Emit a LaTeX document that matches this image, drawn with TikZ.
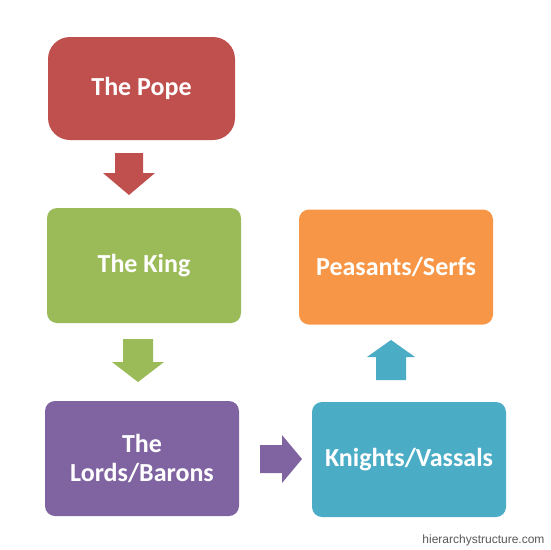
\documentclass[tikz,border=0pt]{standalone}
\usepackage{fontspec}
\setmainfont{Carlito}
\newfontfamily\sitefont{Liberation Sans}
\definecolor{popered}{HTML}{C0504D}
\definecolor{kinggreen}{HTML}{9BBB59}
\definecolor{lordpurple}{HTML}{8064A2}
\definecolor{knightblue}{HTML}{4BACC6}
\definecolor{serforange}{HTML}{F79646}
\begin{document}
\begin{tikzpicture}[x=1pt, y=-1pt,
  level/.style = {shape=rectangle, rounded corners=10pt, align=center,
    minimum width=194pt, minimum height=115pt, inner sep=0pt,
    text=white, font=\fontsize{26}{29}\selectfont\bfseries}]
  \useasboundingbox (0,0) rectangle (550,550);
  \node[level, fill=popered, minimum width=187pt, minimum height=103pt,
    rounded corners=22pt] (pope) at (141.5,88.5) {The Pope};
  \node[level, fill=kinggreen] (king) at (144,265.5) {The King};
  \node[level, fill=lordpurple] (lords) at (142,458.5) {The\\Lords/Barons};
  \node[level, fill=knightblue] (knights) at (409,459.5) {Knights/Vassals};
  \node[level, fill=serforange] (serfs) at (396,267) {Peasants/Serfs};
  % block arrows between the levels
  \fill[popered] (115,153) -- (143,153) -- (143,173) -- (155,173) -- (129,195)
    -- (103,173) -- (115,173) -- cycle;
  \fill[kinggreen] (123,339) -- (153,339) -- (153,362) -- (164,362) -- (138,382)
    -- (112,362) -- (123,362) -- cycle;
  \fill[lordpurple] (260,445) -- (282,445) -- (282,435) -- (302,459) -- (282,483)
    -- (282,473) -- (260,473) -- cycle;
  \fill[knightblue] (376,380) -- (376,357) -- (367,357) -- (391,340) -- (415,357)
    -- (406,357) -- (406,380) -- cycle;
  \node[font=\sitefont\fontsize{12}{14}\selectfont, text=black!65, anchor=east]
    (site) at (548,540) {hierarchystructure.com};
\end{tikzpicture}
\end{document}
